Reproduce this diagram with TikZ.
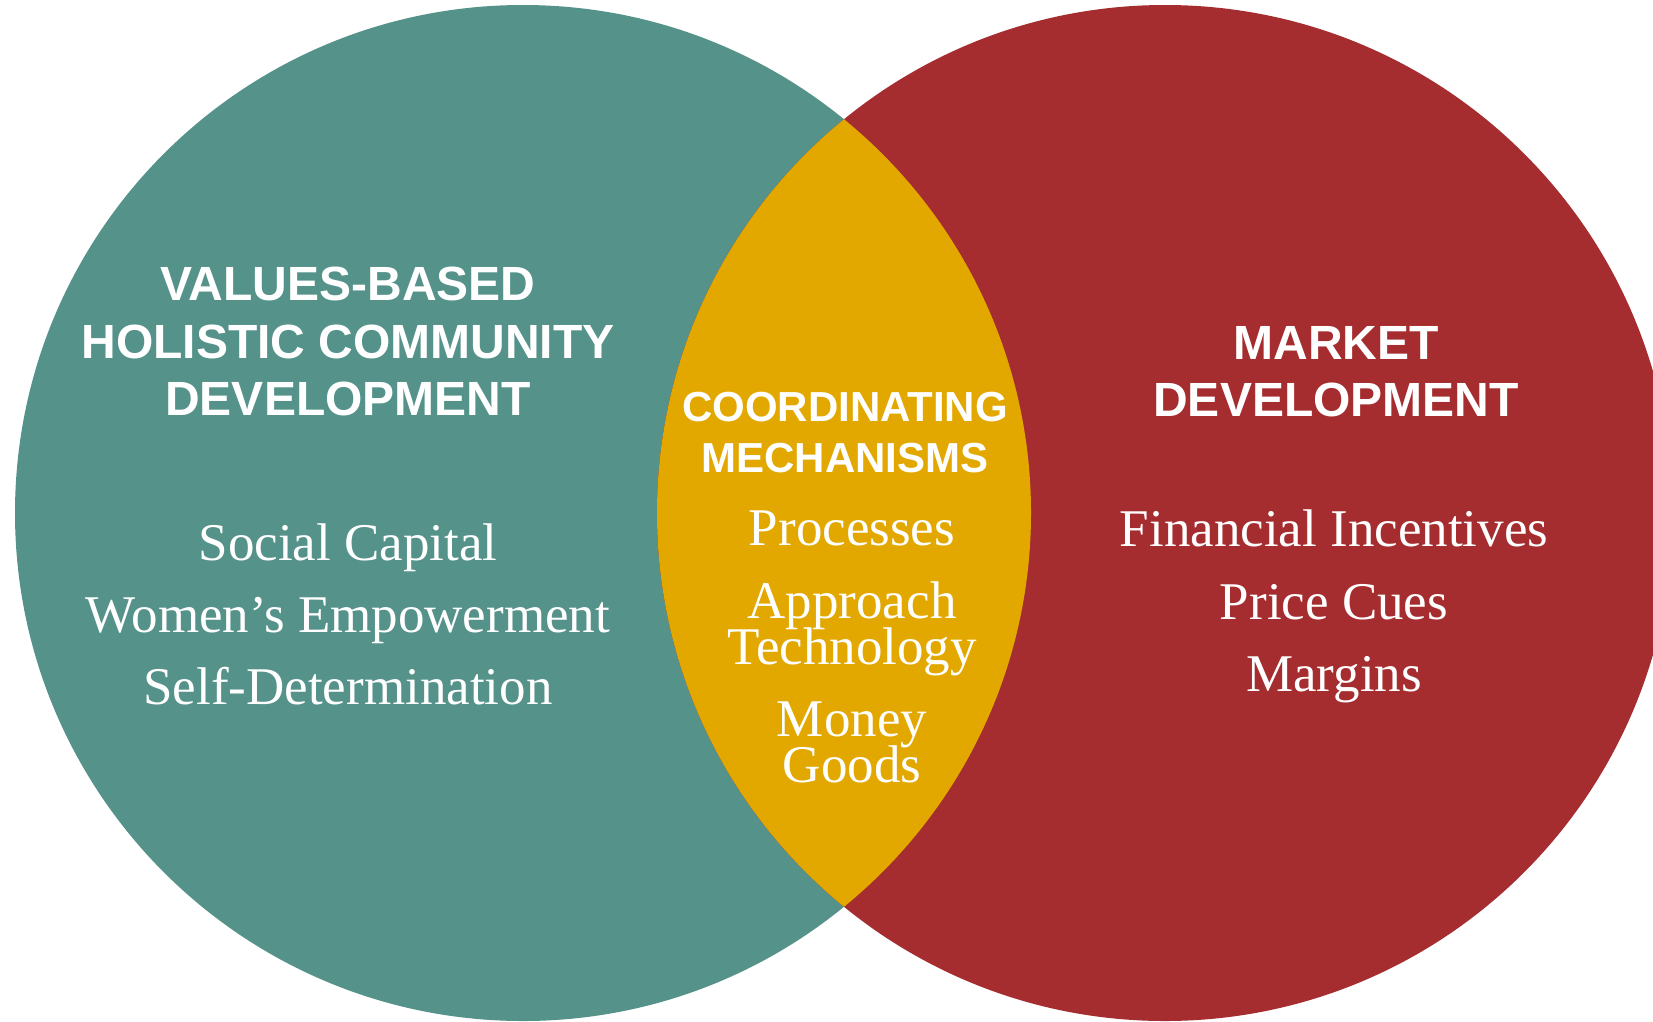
\documentclass[tikz,border=0pt]{standalone}
\usepackage{fontspec}
\setmainfont{Liberation Serif}
\newfontfamily\headfont{Liberation Sans}
\definecolor{vteal}{HTML}{55928A}
\definecolor{vred}{HTML}{A52D2F}
\definecolor{vgold}{HTML}{E2A800}
\newcommand\tightlines{\setlength{\lineskiplimit}{-50pt}}

\begin{document}
\begin{tikzpicture}[x=1pt, y=-1pt,
    head/.style={text=white, anchor=base, inner sep=0pt,
      font=\headfont\bfseries\fontsize{48}{48}\selectfont},
    midhead/.style={head, font=\headfont\bfseries\fontsize{42}{42}\selectfont},
    item/.style={text=white, anchor=base, inner sep=0pt,
      font=\fontsize{53}{53}\selectfont},
    pair/.style={item, align=center,
      font=\fontsize{53}{46}\selectfont\tightlines}]
    \useasboundingbox (0,0) rectangle (1653,1021);
    \clip (0,0) rectangle (1653,1021);
    % the two circles and the lens between them
    \fill[vteal] (523,513) circle[radius=508pt];
    \fill[vred] (1165,513) circle[radius=508pt];
    \begin{scope}
      \clip (523,513) circle[radius=508pt];
      \fill[vgold] (1165,513) circle[radius=508pt];
    \end{scope}
    % left circle
    \node[head] (V1) at (348,300) {VALUES-BASED};
    \node[head] (V2) at (348,358) {HOLISTIC COMMUNITY};
    \node[head] (V3) at (348,415) {DEVELOPMENT};
    \node[item] (L1) at (348,560) {Social Capital};
    \node[item] (L2) at (348,632) {Women’s Empowerment};
    \node[item] (L3) at (348,704) {Self-Determination};
    % lens (base = last line)
    \node[midhead] (C1) at (845,421) {COORDINATING};
    \node[midhead] (C2) at (845,472) {MECHANISMS};
    \node[item] (M1) at (852,545) {Processes};
    \node[pair] (M2) at (852,664) {Approach\\Technology};
    \node[pair] (M3) at (852,782) {Money\\Goods};
    % right circle
    \node[head] (R1) at (1336,359) {MARKET};
    \node[head] (R2) at (1336,416) {DEVELOPMENT};
    \node[item] (F1) at (1334,546) {Financial Incentives};
    \node[item] (F2) at (1334,619) {Price Cues};
    \node[item] (F3) at (1334,691) {Margins};
\end{tikzpicture}
\end{document}
